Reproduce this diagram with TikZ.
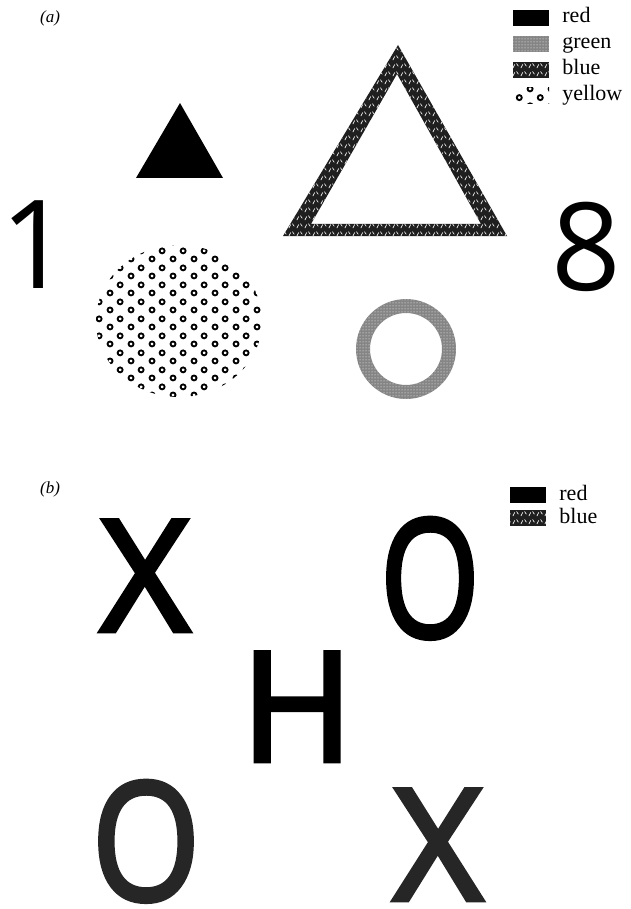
\documentclass[tikz,border=0pt]{standalone}
\usepackage{fontspec}
\setmainfont{Liberation Serif}
\newfontfamily\glyphfont{Open Sans}
\newfontfamily\heavyfont{Open Sans}[FakeBold=3]
\usetikzlibrary{patterns,positioning}
% textures standing in for the colours
\pgfdeclarepatternformonly{rings}{\pgfpointorigin}{\pgfpoint{21pt}{17pt}}{\pgfpoint{21pt}{17pt}}{%
  \pgfsetlinewidth{1.9pt}
  \pgfpathcircle{\pgfpoint{5.25pt}{4.25pt}}{2.6pt}
  \pgfpathcircle{\pgfpoint{15.75pt}{12.75pt}}{2.6pt}
  \pgfusepath{stroke}}
\pgfdeclarepatternformonly{weave}{\pgfpointorigin}{\pgfpoint{8pt}{8pt}}{\pgfpoint{8pt}{8pt}}{%
  \pgfsetlinewidth{0.7pt}
  \pgfpathmoveto{\pgfpoint{1pt}{1pt}}\pgfpathlineto{\pgfpoint{3pt}{5pt}}
  \pgfpathmoveto{\pgfpoint{5pt}{6pt}}\pgfpathlineto{\pgfpoint{7pt}{3pt}}
  \pgfusepath{stroke}}

\begin{document}
\begin{tikzpicture}[
  x=1pt,y=-1pt,
  lbl/.style={font=\fontsize{22}{24}\selectfont,inner sep=0pt,text height=15pt,text depth=5pt},
  swatch/.style={minimum width=36pt,minimum height=16pt,inner sep=0pt},
  redfill/.style={fill=black},
  greenfill/.style={fill=black!48,postaction={pattern=dots,pattern color=white}},
  bluefill/.style={fill=black!88,postaction={pattern=weave,pattern color=white}},
  yellowfill/.style={pattern=rings,pattern color=black},
  glyph/.style={inner sep=0pt,anchor=base,font=\glyphfont\fontsize{#1}{#1}\selectfont},
  heavy/.style={inner sep=0pt,anchor=base,font=\heavyfont\fontsize{#1}{#1}\selectfont},
  panel/.style={font=\fontsize{17}{19}\selectfont\itshape,inner sep=0pt}
]
\useasboundingbox (0,0) rectangle (630,909);

% (a)
\node[panel] (pa) at (50,18) {(a)};
\node[swatch,redfill] (ra) at (531,18) {};
\node[swatch,greenfill] (ga) at (531,44) {};
\node[swatch,bluefill] (ba) at (531,70) {};
\node[swatch,yellowfill] (ya) at (531,96) {};
\node[lbl,right=13pt of ra] (rat) {red};
\node[lbl,right=13pt of ga] (gat) {green};
\node[lbl,right=13pt of ba] (bat) {blue};
\node[lbl,right=13pt of ya] (yat) {yellow};

\fill (180,103) -- (136,178) -- (223,178) -- cycle;
\path[bluefill,even odd rule] (398,45) -- (283,236) -- (507,236) -- cycle
  (397,74) -- (311,224) -- (481,224) -- cycle;
\path[yellowfill] (179,321) ellipse[x radius=83,y radius=76];
\path[greenfill,even odd rule] (406,349) circle[radius=50] (406,349) circle[radius=36];
\node[glyph=123,anchor=base west] (one) at (0,288) {1};
\node[glyph=122] (eight) at (586,290) {8};

% (b)
\node[panel] (pb) at (50,489) {(b)};
\node[swatch,redfill] (rb) at (528,495) {};
\node[swatch,bluefill] (bb) at (528,518) {};
\node[lbl,right=13pt of rb] (rbt) {red};
\node[lbl,right=13pt of bb] (bbt) {blue};

\node[heavy=155] (xa) at (145,631) {X};
\node[heavy=164] (oa) at (430,637) {\scalebox{0.78}[1]{O}};
\node[heavy=152] (h) at (297,761) {H};
\node[heavy=164,text=black!85] (ob) at (146,900) {\scalebox{0.85}[1]{O}};
\node[heavy=155,text=black!85] (xb) at (438,900) {X};
\end{tikzpicture}
\end{document}
